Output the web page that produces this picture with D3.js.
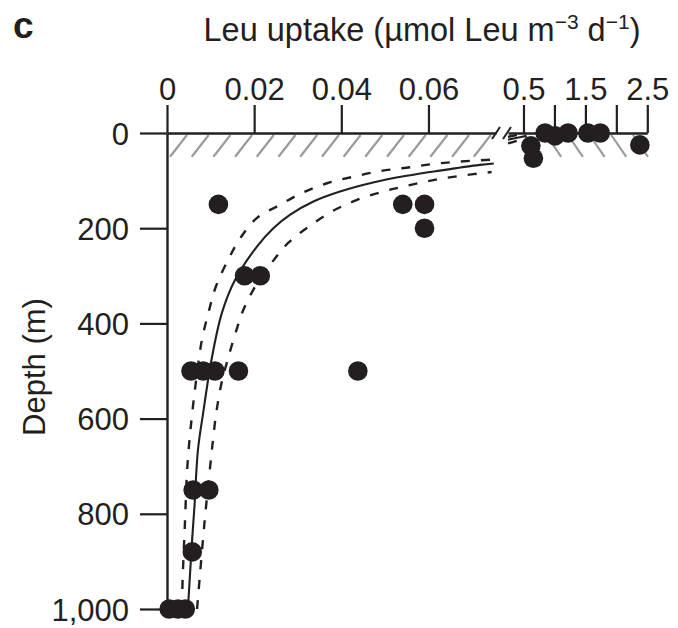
<!DOCTYPE html>
<html>
<head>
<meta charset="utf-8">
<script src="https://cdn.jsdelivr.net/npm/d3@7/dist/d3.min.js"></script>
<style>
  html, body { margin: 0; padding: 0; background: #fff; }
  svg { display: block; }
  text { font-family: "Liberation Sans", Arial, Helvetica, sans-serif; fill: #231f20; }
</style>
</head>
<body>
<svg id="chart" width="678" height="628"></svg>
<script>
// ---------------- data ----------------
const panelLabel = "c";
const yLabel = "Depth (m)";
const depthTicks = [0, 200, 400, 600, 800, 1000];
const depthTickLabels = ["0", "200", "400", "600", "800", "1,000"];
const leftTicks = [0, 0.02, 0.04, 0.06];
const leftTickLabels = ["0", "0.02", "0.04", "0.06"];
const rightTicks = [0.5, 1.0, 1.5, 2.0, 2.5];
const rightTickLabels = ["0.5", "", "1.5", "", "2.5"];
const mixedLayerDepth = 50;

// observations in the low-uptake (left) part of the broken axis
const obsLeftUptake = [0.0118, 0.0541, 0.0591, 0.0591, 0.0178, 0.0214,
                       0.0055, 0.0083, 0.0110, 0.0164, 0.0438,
                       0.0060, 0.0096, 0.0058, 0.0005, 0.0025, 0.0042];
const obsLeftDepth  = [150, 150, 150, 200, 300, 300,
                       500, 500, 500, 500, 500,
                       750, 750, 880, 1000, 1000, 1000];
// observations in the high-uptake (right) part of the broken axis
const obsRightUptake = [0.62, 0.66, 0.85, 1.01, 1.22, 1.54, 1.74, 2.38];
const obsRightDepth  = [27, 53, 0, 6, 0, 0, 0, 25];

// fitted curve and its confidence band
const fitDepth  = [1000, 850, 785, 666, 588, 477, 378, 309, 239, 200, 172, 144, 123, 104, 90, 79, 67, 64];
const fitUptake = [0.0048, 0.0058, 0.0063, 0.0071, 0.0083, 0.0102, 0.0126, 0.0156, 0.0206, 0.0244, 0.0282, 0.0336, 0.0397, 0.0473, 0.0550, 0.0626, 0.0718, 0.0750];
const loDepth  = [1000, 935, 823, 711, 651, 596, 540, 435, 378, 323, 267, 221, 179, 151, 125, 105, 92, 80, 73, 65, 60, 56];
const loUptake = [0.0034, 0.0036, 0.0041, 0.0046, 0.0051, 0.0057, 0.0064, 0.0080, 0.0095, 0.0112, 0.0140, 0.0168, 0.0206, 0.0259, 0.0312, 0.0369, 0.0427, 0.0489, 0.0550, 0.0611, 0.0673, 0.0745];
const hiDepth  = [1000, 924, 809, 701, 641, 588, 526, 477, 421, 372, 320, 273, 231, 195, 165, 141, 123, 111, 99, 90, 82];
const hiUptake = [0.0069, 0.0076, 0.0087, 0.0099, 0.0106, 0.0113, 0.0125, 0.0139, 0.0157, 0.0175, 0.0204, 0.0240, 0.0278, 0.0328, 0.0378, 0.0435, 0.0496, 0.0550, 0.0611, 0.0673, 0.0745];
// continuation of the curves after the axis break
const fitRightUptake = [0.25, 0.40, 0.55];
const fitRightDepth  = [14, 10, 6];
const loRightUptake  = [0.25, 0.45];
const loRightDepth   = [8, 3];
const hiRightUptake  = [0.25, 0.40, 0.55];
const hiRightDepth   = [22, 16, 10];

// ---------------- drawing ----------------
const ink = "#231f20";
const svg = d3.select("#chart");
svg.append("rect").attr("width", 678).attr("height", 628).attr("fill", "#fff");

const y  = d3.scaleLinear().domain([0, 1000]).range([133, 609]);
const xL = d3.scaleLinear().domain([0, 0.0755]).range([167, 496]);
const xR = d3.scaleLinear().domain([0.25, 2.5]).range([508, 647.3]);

// hatch (mixed layer)
const hatch = svg.append("g").attr("stroke", "#9b9b9b").attr("stroke-width", 2.2).attr("stroke-linecap", "butt");
const hTop = y(0) + 2, hBot = y(mixedLayerDepth);
const leftStarts = d3.range(xL(0) + 3, xL.range()[1] - 17, 21.7);
hatch.selectAll("line.l").data(leftStarts).join("line").attr("class", "l")
  .attr("x1", d => d).attr("y1", hBot).attr("x2", d => d + 17).attr("y2", hTop);
const rightStarts = d3.range(633, xR.range()[0] + 4, -21.7);
hatch.selectAll("line.r").data(rightStarts).join("line").attr("class", "r")
  .attr("x1", d => d).attr("y1", hTop).attr("x2", d => d + 15).attr("y2", hBot);

// curves
function drawCurve(xs, ds, scale, dashed, curveType) {
  const pts = xs.map((v, i) => [scale(v), y(ds[i])]);
  svg.append("path")
    .attr("d", d3.line().curve(curveType || d3.curveCatmullRom.alpha(0.5))(pts))
    .attr("fill", "none").attr("stroke", ink)
    .attr("stroke-width", dashed ? 2.4 : 2.1)
    .attr("stroke-dasharray", dashed ? "9,11" : null);
}
drawCurve(fitUptake, fitDepth, xL, false);
drawCurve(loUptake, loDepth, xL, true);
drawCurve(hiUptake, hiDepth, xL, true);
drawCurve(fitRightUptake, fitRightDepth, xR, false);
drawCurve(loRightUptake, loRightDepth, xR, true);
drawCurve(hiRightUptake, hiRightDepth, xR, true);

// axes
function styleAxis(g) {
  g.select(".domain").attr("stroke", ink).attr("stroke-width", 2.4);
  g.selectAll(".tick line").attr("stroke", ink).attr("stroke-width", 2.2);
  g.selectAll("text").attr("font-size", null).attr("font-family", null)
    .style("font-size", "31px").attr("fill", ink);
  g.attr("font-size", null).attr("font-family", null);
}
svg.append("g").attr("transform", `translate(${xL.range()[0]},0)`)
  .call(d3.axisLeft(y).tickValues(depthTicks).tickSize(27).tickSizeOuter(0).tickPadding(11)
        .tickFormat((d, i) => depthTickLabels[i]))
  .call(styleAxis)
  .selectAll("text").attr("dy", "0.36em");

svg.append("g").attr("transform", `translate(0,${y(0)})`)
  .call(d3.axisTop(xL).tickValues(leftTicks).tickSize(28).tickSizeOuter(0).tickPadding(5)
        .tickFormat((d, i) => leftTickLabels[i]))
  .call(styleAxis);

svg.append("g").attr("transform", `translate(0,${y(0)})`)
  .call(d3.axisTop(xR).tickValues(rightTicks).tickSize(28).tickSizeOuter(0).tickPadding(5)
        .tickFormat((d, i) => rightTickLabels[i]))
  .call(styleAxis);

// axis break marks
const breakXs = [xL.range()[1], xR.range()[0] - 1];
svg.append("g").selectAll("line").data(breakXs).join("line")
  .attr("x1", d => d - 4).attr("y1", y(0) + 6)
  .attr("x2", d => d + 4).attr("y2", y(0) - 6)
  .attr("stroke", ink).attr("stroke-width", 2);

// observations
const dots = svg.append("g").attr("fill", ink);
dots.selectAll("circle.l").data(obsLeftUptake).join("circle").attr("class", "l")
  .attr("cx", d => xL(d)).attr("cy", (d, i) => y(obsLeftDepth[i])).attr("r", 9.8);
dots.selectAll("circle.r").data(obsRightUptake).join("circle").attr("class", "r")
  .attr("cx", d => xR(d)).attr("cy", (d, i) => y(obsRightDepth[i])).attr("r", 9.8);

// titles
svg.append("text").attr("x", 13).attr("y", 38)
  .style("font-size", "37px").style("font-weight", "900").text(panelLabel);

const title = svg.append("text").attr("x", 422).attr("y", 41)
  .attr("text-anchor", "middle").style("font-size", "32.5px");
title.append("tspan").text("Leu uptake (\u00b5mol Leu m");
title.append("tspan").attr("dy", -12).style("font-size", "21px").text("\u22123");
title.append("tspan").attr("dy", 12).text(" d");
title.append("tspan").attr("dy", -12).style("font-size", "21px").text("\u22121");
title.append("tspan").attr("dy", 12).text(")");

svg.append("text")
  .attr("transform", `translate(45,${(y(0) + y(1000)) / 2 - 4}) rotate(-90)`)
  .attr("text-anchor", "middle").style("font-size", "31px").text(yLabel);
</script>
</body>
</html>
